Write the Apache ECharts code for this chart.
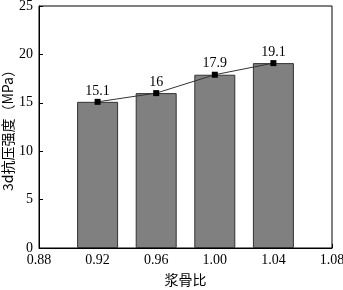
<!DOCTYPE html>
<html>
<head>
<meta charset="utf-8">
<script src="https://cdn.jsdelivr.net/npm/echarts@6/dist/echarts.min.js"></script>
<style>html,body{margin:0;padding:0;background:#fff}#main{width:343px;height:290px}</style>
</head>
<body>
<div id="main"></div>
<script>
var ratios = [0.92, 0.96, 1.00, 1.04];
var strength = [15.1, 16, 17.9, 19.1];
var labels = ['15.1', '16', '17.9', '19.1'];

var pts = ratios.map(function (r, i) { return [r, strength[i]]; });
var serif = 'Liberation Serif';

var myChart = echarts.init(document.getElementById('main'));
var option = {
    animation: false,
    grid: {
        left: 39,
        right: 11,
        top: 6,
        bottom: 42,
        outerBoundsMode: 'none',
        containLabel: false,
        show: true,
        borderColor: '#000',
        borderWidth: 1
    },
    xAxis: {
        type: 'value',
        min: 0.88,
        max: 1.08,
        interval: 0.04,
        name: '浆骨比',
        nameLocation: 'middle',
        nameGap: 25,
        nameMoveOverlap: false,
        nameTextStyle: { fontFamily: 'Noto Sans CJK SC', fontSize: 14, color: '#000' },
        axisLine: { lineStyle: { color: '#000' } },
        axisTick: { inside: true, length: 4, lineStyle: { color: '#000' } },
        splitLine: { show: false },
        axisLabel: {
            color: '#000', fontFamily: serif, fontSize: 14, margin: 5,
            formatter: function (v) { return v.toFixed(2); }
        }
    },
    yAxis: {
        type: 'value',
        min: 0,
        max: 25,
        interval: 5,
        name: '3d抗压强度（MPa）',
        nameLocation: 'middle',
        nameGap: 24,
        nameMoveOverlap: false,
        nameTextStyle: { fontFamily: 'Noto Sans CJK SC', fontSize: 14, color: '#000' },
        axisLine: { lineStyle: { color: '#000' } },
        axisTick: { inside: true, length: 4, lineStyle: { color: '#000' } },
        splitLine: { show: false },
        axisLabel: { color: '#000', fontFamily: serif, fontSize: 14, margin: 6 }
    },
    series: [
        {
            type: 'bar',
            data: pts,
            barWidth: 41,
            itemStyle: { color: '#808080', borderColor: '#333', borderWidth: 1 }
        },
        {
            type: 'line',
            data: pts,
            symbol: 'rect',
            symbolSize: 6,
            itemStyle: { color: '#000' },
            lineStyle: { color: '#333', width: 1 },
            label: {
                show: true,
                position: 'top',
                distance: 1,
                fontFamily: serif,
                fontSize: 14,
                color: '#000',
                formatter: function (p) { return labels[p.dataIndex]; }
            }
        }
    ]
};
myChart.setOption(option);
</script>
</body>
</html>
